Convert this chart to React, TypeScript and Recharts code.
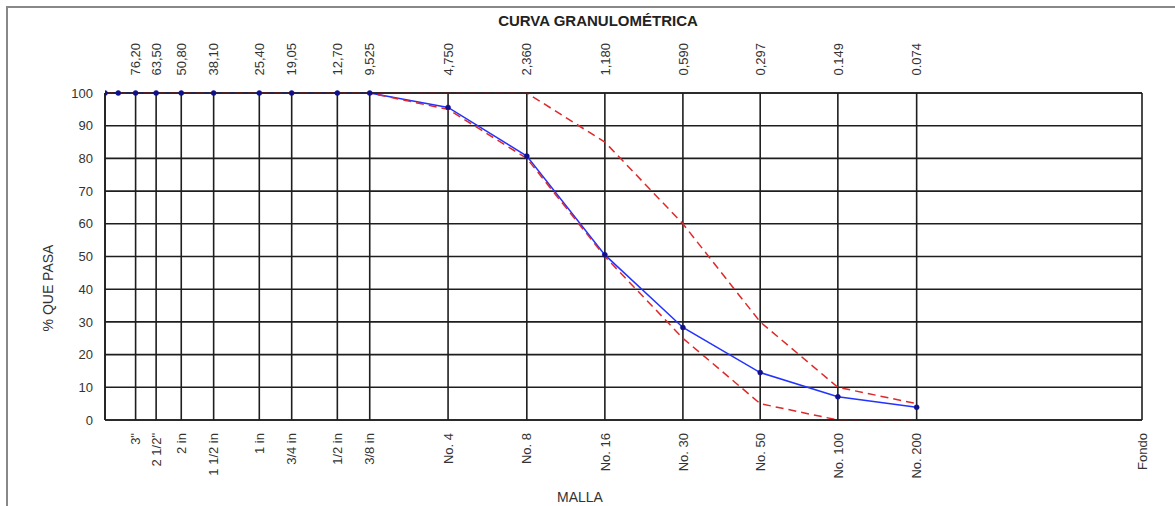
import { CartesianGrid, Line, LineChart, XAxis, YAxis } from "recharts";

// aberturas de tamiz (mm), de mayor a menor
const aberturas = [100, 88.9, 76.2, 63.5, 50.8, 38.1, 25.4, 19.05, 12.7, 9.525, 4.75, 2.36, 1.18, 0.59, 0.297, 0.149, 0.074];
const muestra = [100, 100, 100, 100, 100, 100, 100, 100, 100, 100, 95.6, 80.7, 50.5, 28.3, 14.5, 7.1, 3.9];
const limiteSuperior = [100, 100, 100, 100, 100, 100, 100, 100, 100, 100, 100, 100, 85, 60, 30, 10, 5];
const limiteInferior = [100, 100, 100, 100, 100, 100, 100, 100, 100, 100, 95, 80, 50, 25, 5, 0, 0];

const tickAberturas = [76.2, 63.5, 50.8, 38.1, 25.4, 19.05, 12.7, 9.525, 4.75, 2.36, 1.18, 0.59, 0.297, 0.149, 0.074, 0.01];
const mallaLabels = ['3"', '2 1/2"', "2 in", "1 1/2 in", "1 in", "3/4 in", "1/2 in", "3/8 in", "No. 4", "No. 8", "No. 16", "No. 30", "No. 50", "No. 100", "No. 200", "Fondo"];
const aberturaLabels = ["76,20", "63,50", "50,80", "38,10", "25,40", "19,05", "12,70", "9,525", "4,750", "2,360", "1,180", "0,590", "0,297", "0.149", "0.074", ""];
const yTicks = [0, 10, 20, 30, 40, 50, 60, 70, 80, 90, 100];

const data = aberturas.map((a, i) => ({
  abertura: a,
  muestra: muestra[i],
  sup: limiteSuperior[i],
  inf: limiteInferior[i],
}));

const FONT = "'Liberation Sans', Arial, sans-serif";
const GRID = "#1e1e1e";

const RotTick = (labels: string[]) => (props: any) => {
  const { x, y, payload } = props;
  const i = tickAberturas.indexOf(payload.value);
  const label = labels[i] ?? "";
  return (
    <text
      x={x}
      y={y}
      dy="0.36em"
      textAnchor="end"
      transform={`rotate(-90, ${x}, ${y})`}
      fontSize={13}
      fontFamily={FONT}
      fill="#333"
    >
      {label}
    </text>
  );
};

export default function App() {
  return (
    <div style={{ position: "absolute", left: 0, top: 0, width: 1175, height: 506, background: "#fff" }}>
      <div
        style={{
          position: "absolute",
          left: 6,
          top: 6,
          right: 0,
          bottom: 0,
          borderLeft: "2px solid #888",
          borderTop: "2px solid #888",
        }}
      />
      <div
        style={{
          position: "absolute",
          left: 598,
          top: 12,
          transform: "translateX(-50%)",
          fontFamily: FONT,
          fontWeight: "bold",
          fontSize: 15,
          color: "#222",
          whiteSpace: "nowrap",
        }}
      >
        CURVA GRANULOMÉTRICA
      </div>
      <div
        style={{
          position: "absolute",
          left: 48,
          top: 288,
          transform: "translate(-50%, -50%) rotate(-90deg)",
          fontFamily: FONT,
          fontSize: 14,
          color: "#333",
          whiteSpace: "nowrap",
        }}
      >
        % QUE PASA
      </div>
      <div
        style={{
          position: "absolute",
          left: 580,
          top: 497,
          transform: "translate(-50%, -50%)",
          fontFamily: FONT,
          fontSize: 14,
          color: "#333",
          whiteSpace: "nowrap",
        }}
      >
        MALLA
      </div>
      <div style={{ position: "absolute", left: 0, top: 0 }}>
        <LineChart width={1175} height={506} data={data} margin={{ top: 10, right: 33, bottom: 0, left: 45 }}>
          <CartesianGrid xAxisId="bottom" stroke={GRID} strokeWidth={1.6} />
          <XAxis
            xAxisId="bottom"
            dataKey="abertura"
            type="number"
            scale="log"
            domain={[0.01, 100]}
            reversed
            allowDataOverflow
            ticks={tickAberturas}
            interval={0}
            height={86}
            tickSize={0}
            tickMargin={13}
            tickLine={false}
            axisLine={{ stroke: GRID, strokeWidth: 1.6 }}
            tick={RotTick(mallaLabels)}
          />
          <XAxis
            xAxisId="top"
            orientation="top"
            dataKey="abertura"
            type="number"
            scale="log"
            domain={[0.01, 100]}
            reversed
            allowDataOverflow
            ticks={tickAberturas}
            interval={0}
            height={83}
            tickSize={0}
            tickMargin={50}
            tickLine={false}
            axisLine={{ stroke: GRID, strokeWidth: 1.6 }}
            tick={RotTick(aberturaLabels)}
          />
          <YAxis
            type="number"
            domain={[0, 100]}
            ticks={yTicks}
            interval={0}
            width={60}
            tickSize={0}
            tickMargin={12}
            tickLine={false}
            axisLine={{ stroke: GRID, strokeWidth: 1.6 }}
            tick={{ fontSize: 13, fontFamily: FONT, fill: "#333" }}
          />
          <Line
            xAxisId="bottom"
            dataKey="muestra"
            stroke="#2233ff"
            strokeWidth={1.5}
            dot={{ r: 2.5, fill: "#10108a", stroke: "#10108a", strokeWidth: 0.5 }}
            isAnimationActive={false}
          />
          <Line
            xAxisId="top"
            dataKey="sup"
            stroke="#e0282a"
            strokeWidth={1.5}
            strokeDasharray="8 5"
            dot={false}
            isAnimationActive={false}
          />
          <Line
            xAxisId="top"
            dataKey="inf"
            stroke="#e0282a"
            strokeWidth={1.5}
            strokeDasharray="8 5"
            dot={false}
            isAnimationActive={false}
          />
        </LineChart>
      </div>
    </div>
  );
}
